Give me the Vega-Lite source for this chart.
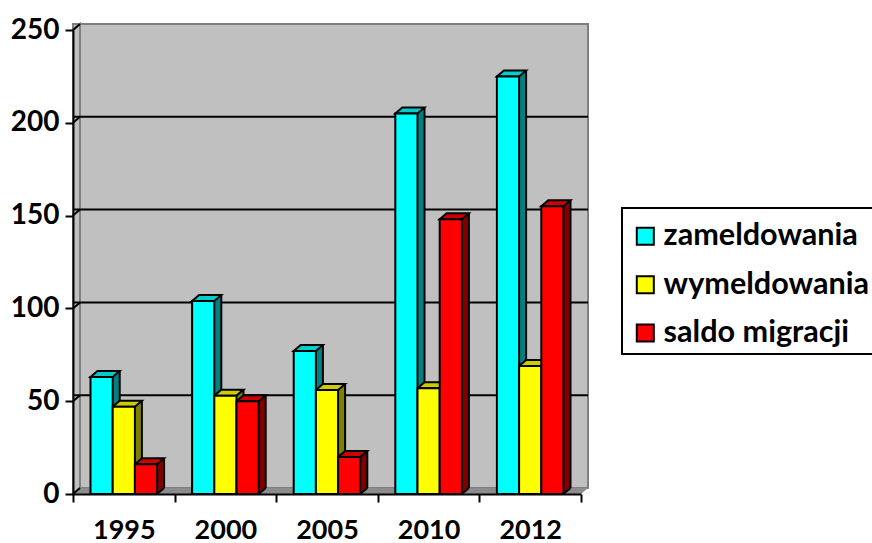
{
"$schema":"https://vega.github.io/schema/vega-lite/v6.json",
"width":508,"height":464,
"autosize":"none",
"padding":{"left":73,"top":30,"right":291,"bottom":49},
"background":"white",
"datasets":{
"bars":[
{"year":"1995","series":"zameldowania","value":63},{"year":"1995","series":"wymeldowania","value":47},{"year":"1995","series":"saldo migracji","value":16},
{"year":"2000","series":"zameldowania","value":104},{"year":"2000","series":"wymeldowania","value":53},{"year":"2000","series":"saldo migracji","value":50},
{"year":"2005","series":"zameldowania","value":77},{"year":"2005","series":"wymeldowania","value":56},{"year":"2005","series":"saldo migracji","value":20},
{"year":"2010","series":"zameldowania","value":205},{"year":"2010","series":"wymeldowania","value":57},{"year":"2010","series":"saldo migracji","value":148},
{"year":"2012","series":"zameldowania","value":225},{"year":"2012","series":"wymeldowania","value":69},{"year":"2012","series":"saldo migracji","value":155}],
"base":[{"year":"1995","value":0}],
"wall":[{"low":0,"high":250}],
"grid":[{"year":"1995","value":50},{"year":"1995","value":100},{"year":"1995","value":150},{"year":"1995","value":200}],
"diag":[{"year":"1995","value":0},{"year":"1995","value":50},{"year":"1995","value":100},{"year":"1995","value":150},{"year":"1995","value":200},{"year":"1995","value":250}]
},
"config":{"view":{"stroke":null},"font":"Lato","legend":{"strokeWidth":2}},
"layer":[
{"data":{"name":"wall"},"mark":{"type":"rect","fill":"#C0C0C0","stroke":"#808080","strokeWidth":2,"xOffset":7,"x2Offset":7,"yOffset":-6,"y2Offset":-6},
 "encoding":{"y":{"field":"low","type":"quantitative","title":null,"scale":{"domain":[0,250],"nice":false},"axis":{"zindex":1,"values":[0,50,100,150,200,250],"grid":false,"domainColor":"black","domainWidth":2,"tickColor":"black","tickWidth":2,"tickSize":8,"labelFont":"Lato","labelFontWeight":"bold","labelFontSize":28,"labelColor":"black","labelPadding":6}},"y2":{"field":"high"}}},
{"data":{"name":"base"},"mark":{"type":"point","filled":true,"size":4,"opacity":1,"fill":"#C0C0C0","stroke":"#808080","strokeWidth":2,"shape":"M-50.8,0 L-43.8,-6 L-43.8,-470 L-50.8,-464 Z"},
 "encoding":{"x":{"field":"year","type":"nominal","title":null,"scale":{"type":"band","paddingInner":0,"paddingOuter":0},"axis":{"zindex":1,"labelAngle":0,"labelAlign":"center","labelBaseline":"top","domainColor":"black","domainWidth":2,"tickColor":"black","tickWidth":2,"tickSize":8,"tickBand":"extent","labelFont":"Lato","labelFontWeight":"bold","labelFontSize":27,"labelColor":"black","labelPadding":15}},"y":{"field":"value","type":"quantitative"}}},
{"data":{"name":"grid"},"mark":{"type":"rule","stroke":"black","strokeWidth":2,"xOffset":7,"x2Offset":7,"yOffset":-6},
 "encoding":{"y":{"field":"value","type":"quantitative"}}},
{"data":{"name":"base"},"mark":{"type":"point","filled":true,"size":4,"opacity":1,"fill":"#8C8C8C","strokeWidth":0,"shape":"M-50.8,0 L457.2,0 L464.2,-6 L-43.8,-6 Z"},
 "encoding":{"x":{"field":"year","type":"nominal"},"y":{"field":"value","type":"quantitative"}}},
{"data":{"name":"diag"},"mark":{"type":"point","filled":false,"size":4,"opacity":1,"stroke":"black","strokeWidth":2,"shape":"M-50.8,0 L-43.8,-6"},
 "encoding":{"x":{"field":"year","type":"nominal"},"y":{"field":"value","type":"quantitative"}}},

{"data":{"name":"bars"},"mark":{"type":"bar","yOffset":-6,"y2Offset":-6,"strokeWidth":0},
 "encoding":{"x":{"field":"year","type":"nominal"},
 "xOffset":{"field":"series","sort":["zameldowania","wymeldowania","saldo migracji"],"scale":{"type":"band","domain":["zameldowania","wymeldowania","saldo migracji"],"range":[24.5,91.1],"padding":0}},
 "y":{"field":"value","type":"quantitative"},
 "color":{"field":"series","scale":{"domain":["zameldowania","wymeldowania","saldo migracji"],"range":["#008080","#808000","#800000"]},"legend":null}}},
{"data":{"name":"bars"},"mark":{"type":"point","filled":true,"size":4,"opacity":1,"strokeWidth":0,"shape":"M11.1,0 L18.1,-6 L11.1,-6 Z"},
 "encoding":{"x":{"field":"year","type":"nominal"},
 "xOffset":{"field":"series","sort":["zameldowania","wymeldowania","saldo migracji"],"scale":{"type":"band","domain":["zameldowania","wymeldowania","saldo migracji"],"range":[17.5,84.1],"padding":0}},
 "y":{"datum":0},
 "color":{"field":"series","scale":{"domain":["zameldowania","wymeldowania","saldo migracji"],"range":["#008080","#808000","#800000"]},"legend":null}}},
{"data":{"name":"bars"},"mark":{"type":"point","filled":false,"size":4,"opacity":1,"stroke":"black","strokeWidth":2,"shape":"M11.1,0 L18.1,-6"},
 "encoding":{"x":{"field":"year","type":"nominal"},
 "xOffset":{"field":"series","sort":["zameldowania","wymeldowania","saldo migracji"],"scale":{"type":"band","domain":["zameldowania","wymeldowania","saldo migracji"],"range":[17.5,84.1],"padding":0}},
 "y":{"datum":0}}},
{"data":{"name":"bars"},"mark":{"type":"rule","stroke":"black","strokeWidth":2,"yOffset":-6,"y2Offset":-6},
 "encoding":{"x":{"field":"year","type":"nominal"},
 "xOffset":{"field":"series","sort":["zameldowania","wymeldowania","saldo migracji"],"scale":{"type":"band","domain":["zameldowania","wymeldowania","saldo migracji"],"range":[35.6,102.2],"padding":0}},
 "y":{"field":"value","type":"quantitative"},"y2":{"datum":0}}},
{"data":{"name":"bars"},"mark":{"type":"point","filled":true,"size":4,"opacity":1,"stroke":"black","strokeWidth":2,"shape":"M-11.1,0 L-4.1,-6 L18.1,-6 L11.1,0 Z"},
 "encoding":{"x":{"field":"year","type":"nominal"},
 "xOffset":{"field":"series","sort":["zameldowania","wymeldowania","saldo migracji"],"scale":{"type":"band","domain":["zameldowania","wymeldowania","saldo migracji"],"range":[17.5,84.1],"padding":0}},
 "y":{"field":"value","type":"quantitative"},
 "color":{"field":"series","scale":{"domain":["zameldowania","wymeldowania","saldo migracji"],"range":["#00CCCC","#CCCC00","#CC0000"]},"legend":null}}},
{"data":{"name":"bars"},"mark":{"type":"bar","stroke":"black","strokeWidth":2,"opacity":1},
 "encoding":{"x":{"field":"year","type":"nominal"},
 "xOffset":{"field":"series","sort":["zameldowania","wymeldowania","saldo migracji"],"scale":{"type":"band","domain":["zameldowania","wymeldowania","saldo migracji"],"range":[17.5,84.1],"padding":0}},
 "y":{"field":"value","type":"quantitative"},
 "color":{"field":"series","scale":{"domain":["zameldowania","wymeldowania","saldo migracji"],"range":["#00FFFF","#FFFF00","#FF0000"]},
 "legend":{"title":" ","titleFontSize":6,"titlePadding":2,"titleLineHeight":6,"orient":"none","legendX":549,"legendY":178,"fillColor":"white","strokeColor":"black","padding":5,"symbolOffset":3,"symbolType":"square","symbolSize":290,"symbolStrokeColor":"black","symbolStrokeWidth":2,"symbolOpacity":1,"labelFont":"Lato","labelFontWeight":"bold","labelFontSize":30.6,"labelColor":"black","labelOffset":3,"rowPadding":17.4,"labelLimit":400}}}}
],
"resolve":{"scale":{"color":"independent","xOffset":"independent"}}
}
